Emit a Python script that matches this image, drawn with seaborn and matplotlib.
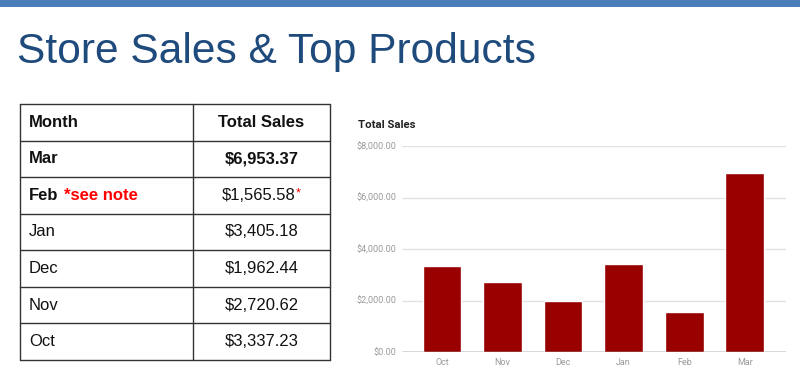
import matplotlib
matplotlib.use('Agg')
import matplotlib.pyplot as plt
from matplotlib.patches import Rectangle
from matplotlib.lines import Line2D
from matplotlib.ticker import FuncFormatter
import seaborn as sns
import pandas as pd

# ---- data ----
months = ['Oct', 'Nov', 'Dec', 'Jan', 'Feb', 'Mar']
sales = [3337.23, 2720.62, 1962.44, 3405.18, 1565.58, 6953.37]
table_header = ['Month', 'Total Sales']
table_months = ['Mar', 'Feb', 'Jan', 'Dec', 'Nov', 'Oct']
table_sales = ['$6,953.37', '$1,565.58', '$3,405.18', '$1,962.44', '$2,720.62', '$3,337.23']
y_ticks = [0, 2000, 4000, 6000, 8000]
title = 'Store Sales & Top Products'
chart_title = 'Total Sales'
note_text = '*see note'

sns.set_theme(style='white')
plt.rcParams['font.family'] = ['Liberation Sans', 'DejaVu Sans']

W, H = 800, 377
fig = plt.figure(figsize=(8, 3.77), dpi=100)
fig.patch.set_facecolor('white')

# background overlay axes in pixel-like coordinates (0..800, 0..377 from top)
bg = fig.add_axes([0, 0, 1, 1])
bg.set_xlim(0, W)
bg.set_ylim(H, 0)
bg.axis('off')

# top band
bg.add_patch(Rectangle((0, 0), W, 7, facecolor='#4a7ebb', edgecolor='none'))
bg.text(17, 63, title, fontsize=30.6, color='#1f4a7c', va='baseline', ha='left')

# ---- table ----
tl, tr, tdiv = 20, 330, 193
ttop, tbot = 104, 360
nrows = len(table_months) + 1
rh = (tbot - ttop) / nrows
line_kw = dict(color='#333333', lw=1)
for i in range(nrows + 1):
    y = ttop + i * rh
    bg.plot([tl, tr], [y, y], **line_kw)
for x in (tl, tdiv, tr):
    bg.plot([x, x], [ttop, tbot], **line_kw)

fs = 12
cx = (tdiv + tr) / 2
yc = ttop + rh / 2
bg.text(29, yc, table_header[0], fontsize=fs, fontweight='bold', va='center', ha='left', color='#111111')
bg.text(cx, yc, table_header[1], fontsize=fs, fontweight='bold', va='center', ha='center', color='#111111')
for i, (m, s) in enumerate(zip(table_months, table_sales)):
    yc = ttop + (i + 1.5) * rh
    bold = i < 2
    tm = bg.text(29, yc, m, fontsize=fs, fontweight='bold' if bold else 'normal',
                 va='center', ha='left', color='#111111')
    if m == 'Feb':
        bg.annotate(note_text, xy=(1, 0), xycoords=tm, xytext=(4.3, 0),
                    textcoords='offset points', fontsize=fs, fontweight='bold',
                    color='#ff0000', va='bottom', ha='left', annotation_clip=False)
        tv = bg.text(cx - 3, yc, s, fontsize=fs, va='center', ha='center', color='#111111')
        bg.annotate('*', xy=(1, 1), xycoords=tv, xytext=(0.5, 0), textcoords='offset points',
                    fontsize=9, color='#ff0000', va='top', ha='left', annotation_clip=False)
    else:
        bg.text(cx, yc, s, fontsize=fs, fontweight='bold' if i == 0 else 'normal',
                va='center', ha='center', color='#111111')

bg.text(358, 125, chart_title, fontsize=8.2, fontweight='bold', color='#222222',
        va='center', ha='left', family=['Roboto', 'DejaVu Sans'])

# ---- bar chart ----
ax = fig.add_axes([402 / W, 1 - 352 / H, (786 - 402) / W, (352 - 146) / H])
df = pd.DataFrame({'month': months, 'sales': sales})
sns.barplot(data=df, x='month', y='sales', color='#990000', saturation=1, width=0.64, ax=ax,
            zorder=3)
ax.set_xlim(-0.66, 5.68)
ax.set_ylim(0, 8000)
ax.set_yticks(y_ticks)
ax.yaxis.set_major_formatter(FuncFormatter(lambda v, p: f'${v:,.2f}'))
ax.yaxis.grid(True, color='#e2e2e2', lw=1, zorder=0)
ax.set_axisbelow(True)
ax.axhline(0, color='#555555', lw=1, zorder=4)
ax.patch.set_alpha(0)
for sp in ax.spines.values():
    sp.set_visible(False)
ax.set_xlabel('')
ax.set_ylabel('')
ax.tick_params(axis='both', length=0, labelsize=6.5, labelcolor='#9a9a9a')
ax.tick_params(axis='y', pad=4)
ax.tick_params(axis='x', pad=4)
for lab in ax.get_xticklabels() + ax.get_yticklabels():
    lab.set_family(['Roboto', 'DejaVu Sans'])

fig.savefig('out.png', dpi=100, facecolor='white')
